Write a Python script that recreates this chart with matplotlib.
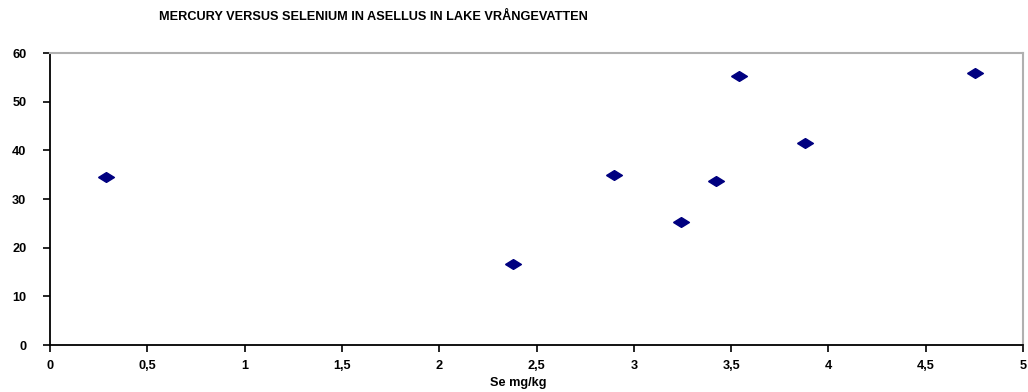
import numpy as np
import matplotlib.pyplot as plt
from matplotlib.ticker import FuncFormatter

## data
se = [0.29, 2.38, 2.90, 3.24, 3.42, 3.54, 3.88, 4.755]   # Se mg/kg
hg = [34.5, 16.7, 34.9, 25.2, 33.6, 55.2, 41.5, 55.9]
xticks = [0, 0.5, 1, 1.5, 2, 2.5, 3, 3.5, 4, 4.5, 5]
yticks = [0, 10, 20, 30, 40, 50, 60]

plt.rcParams['font.family'] = ['Liberation Sans', 'DejaVu Sans']
plt.rcParams['font.weight'] = 'bold'

W, H = 1028, 392
fig = plt.figure(figsize=(W/100, H/100), dpi=100)
ax = fig.add_axes([50/W, (H-345)/H, (1023-50)/W, (345-53)/H])

# flat diamond marker, like the excel one
diamond = [(-1, 0), (0, 0.62), (1, 0), (0, -0.62), (-1, 0)]
ax.scatter(se, hg, marker=diamond, s=130, color='#000080', zorder=3)

ax.set_xlim(0, 5); ax.set_ylim(0, 60)
ax.set_xticks(xticks); ax.set_yticks(yticks)
ax.xaxis.set_major_formatter(FuncFormatter(lambda v, p: f'{v:g}'.replace('.', ',')))
ax.tick_params(direction='out', length=5, width=1.2, labelsize=9.2)
ax.tick_params(axis='y', pad=12)
ax.tick_params(axis='x', pad=6)
for t in ax.get_xticklabels() + ax.get_yticklabels():
    t.set_fontweight('bold')

for s in ['left', 'bottom']:
    ax.spines[s].set_color('black'); ax.spines[s].set_linewidth(1.3)
for s in ['top', 'right']:
    ax.spines[s].set_color('#b0b0b0'); ax.spines[s].set_linewidth(1.5)

fig.text(159/W, 1-17/H, 'MERCURY VERSUS SELENIUM IN ASELLUS IN LAKE VRÅNGEVATTEN',
         fontsize=9.2, fontweight='bold', ha='left', va='center')
fig.text(518/W, 1-383/H, 'Se mg/kg', fontsize=9.2, fontweight='bold', ha='center', va='center')

fig.savefig('out.png', dpi=100, facecolor='white')
